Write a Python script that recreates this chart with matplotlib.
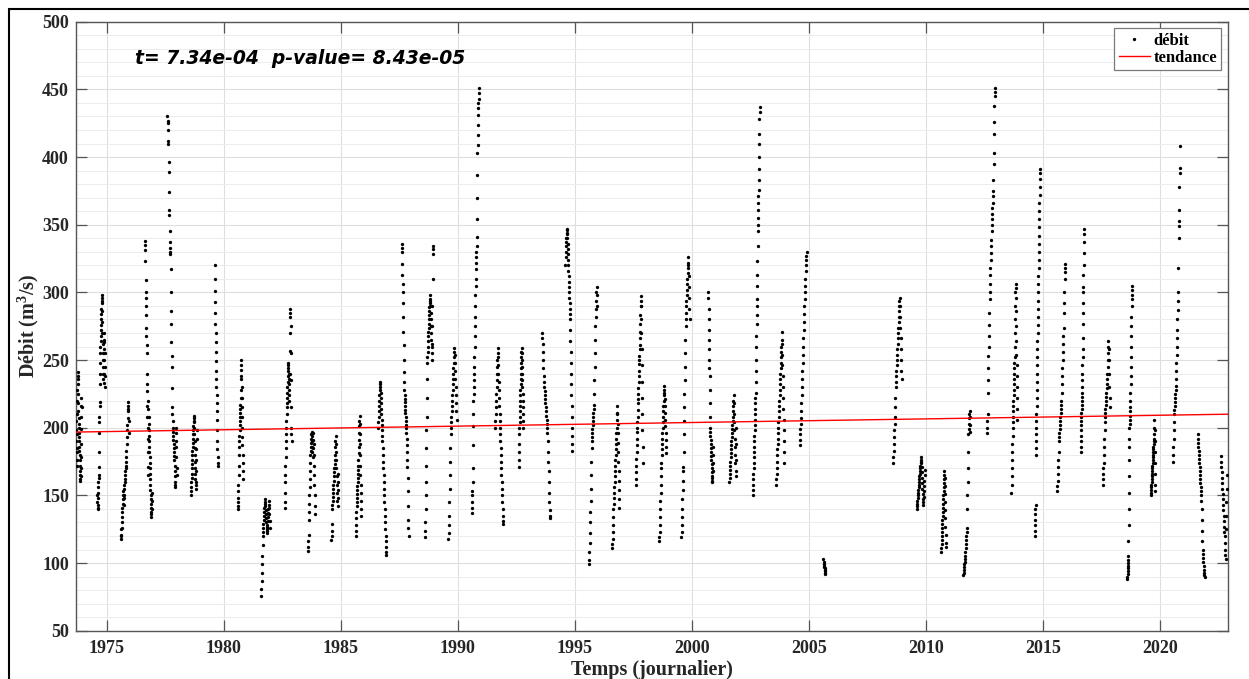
import numpy as np
import matplotlib
matplotlib.use('Agg')
import matplotlib.pyplot as plt
from matplotlib.patches import Rectangle
from matplotlib.ticker import MultipleLocator

plt.rcParams['font.family'] = ['Liberation Serif', 'DejaVu Serif']
plt.rcParams['mathtext.fontset'] = 'custom'
plt.rcParams['mathtext.bf'] = 'Liberation Serif:bold'
plt.rcParams['mathtext.rm'] = 'Liberation Serif:bold'

# debut / fin (annee decimale) de chaque periode de mesures
season_start = [1973.70, 1974.60, 1975.60, 1976.64, 1977.60, 1978.60, 1979.62, 1980.60,
                1981.60, 1982.60, 1983.60, 1984.60, 1985.64, 1986.60, 1987.60, 1988.60,
                1989.60, 1990.60, 1991.60, 1992.60, 1993.60, 1994.60, 1995.60, 1996.60,
                1997.60, 1998.60, 1999.55, 2000.70, 2001.60, 2002.60, 2003.60, 2004.60,
                2005.62, 2008.60, 2009.60, 2010.65, 2011.60, 2012.60, 2013.65, 2014.65,
                2015.60, 2016.60, 2017.55, 2018.60, 2019.60, 2020.55, 2021.60, 2022.60]
season_end = [1973.93, 1974.93, 1975.95, 1976.93, 1978.00, 1978.85, 1979.75, 1980.83,
              1981.97, 1982.90, 1983.90, 1984.90, 1985.88, 1986.95, 1987.90, 1988.95,
              1989.95, 1990.90, 1991.94, 1992.80, 1993.95, 1994.90, 1995.95, 1996.90,
              1997.90, 1998.90, 1999.90, 2000.90, 2001.90, 2002.90, 2003.95, 2004.90,
              2005.70, 2008.96, 2009.95, 2010.85, 2011.90, 2012.95, 2013.90, 2014.87,
              2015.95, 2016.75, 2017.85, 2018.80, 2019.80, 2020.85, 2021.90, 2022.85]

# debits journaliers (m3/s), une liste par periode
debit = [
    [205, 198, 190, 182, 176, 172, 185, 195, 210, 220, 228, 236, 241, 238, 232, 225, 218, 212, 207, 203,
     200, 196, 193, 190, 186, 183, 180, 176, 172, 168, 165, 162, 161, 164, 170, 178, 188, 199, 208, 216, 222, 215],
    [150, 145, 141, 140, 143, 148, 152, 156, 160, 163, 165, 171, 182, 196, 204, 208, 216, 219, 232, 240,
     248, 255, 260, 264, 268, 272, 276, 280, 284, 288, 292, 296, 298, 294, 286, 278, 270, 262, 255, 250,
     245, 240, 236, 233, 240, 250, 258, 265, 270, 263, 255, 245, 238, 230],
    [125, 120, 118, 121, 126, 130, 134, 138, 141, 144, 147, 150, 153, 148, 143, 150, 155, 158, 160, 162,
     165, 168, 170, 172, 175, 178, 183, 188, 193, 198, 202, 207, 212, 216, 219, 214, 205, 196],
    [338, 335, 331, 323, 309, 300, 296, 290, 283, 274, 268, 261, 255, 240, 232, 227, 216, 208, 200, 192,
     182, 171, 165, 220, 214, 208, 203, 198, 194, 190, 186, 182, 178, 174, 170, 166, 162, 158, 154, 150,
     147, 144, 141, 138, 136, 134, 140, 146, 152],
    [430, 427, 425, 420, 412, 410, 396, 389, 374, 361, 357, 345, 337, 333, 330, 328, 317, 300, 286, 277,
     263, 253, 245, 229, 215, 210, 205, 200, 197, 194, 191, 188, 185, 182, 179, 176, 172, 168, 164, 160,
     158, 156, 190, 200, 196, 186, 178, 170, 165],
    [150, 153, 156, 160, 163, 166, 170, 173, 176, 180, 183, 186, 189, 192, 195, 198, 201, 204, 207, 209,
     205, 200, 195, 190, 185, 180, 175, 170, 166, 162, 158, 155, 160, 168, 176, 184, 192, 198],
    [320, 310, 301, 293, 285, 277, 270, 263, 256, 249, 242, 236, 230, 224, 218, 212, 206, 198, 190, 184,
     178, 174, 172],
    [145, 140, 142, 148, 153, 158, 165, 172, 180, 186, 190, 194, 198, 202, 205, 208, 211, 214, 217, 222,
     228, 236, 243, 250, 246, 238, 230, 222, 215, 208, 200, 193, 187, 180, 174, 168, 162],
    [76, 81, 87, 93, 99, 105, 113, 120, 123, 126, 129, 132, 135, 138, 141, 144, 147, 145, 142, 139,
     136, 133, 130, 127, 124, 122, 125, 128, 131, 134, 137, 140, 143, 146, 141, 136, 131, 126],
    [141, 145, 152, 160, 165, 172, 178, 185, 190, 195, 200, 205, 210, 215, 218, 222, 226, 230, 234, 238,
     242, 246, 248, 244, 240, 236, 232, 228, 224, 220, 240, 257, 270, 282, 285, 288, 275, 255, 235, 215,
     200, 195, 190],
    [109, 112, 116, 121, 132, 138, 144, 150, 156, 162, 168, 174, 180, 183, 186, 189, 192, 195, 197, 194,
     190, 186, 182, 178, 185, 191, 196, 188, 180, 172, 165, 158, 150, 142, 136],
    [117, 120, 124, 129, 140, 143, 146, 149, 152, 155, 158, 161, 164, 167, 170, 173, 176, 180, 186, 190,
     194, 188, 182, 176, 170, 164, 158, 152, 146, 142, 148, 154, 160, 166],
    [120, 124, 128, 133, 138, 142, 145, 148, 151, 154, 157, 160, 163, 166, 169, 172, 176, 181, 186, 191,
     196, 201, 205, 209, 203, 195, 188, 180, 172, 165, 158, 152, 146, 140, 135],
    [200, 204, 208, 212, 216, 220, 224, 228, 232, 234, 230, 226, 222, 218, 214, 210, 206, 202, 198, 194,
     190, 185, 180, 175, 170, 165, 160, 155, 150, 145, 140, 135, 130, 125, 120, 116, 112, 108, 106],
    [336, 333, 330, 321, 313, 306, 300, 292, 282, 271, 261, 250, 241, 234, 228, 224, 221, 219, 216, 213,
     211, 208, 205, 202, 200, 196, 192, 187, 182, 176, 171, 163, 153, 142, 132, 126, 120],
    [119, 124, 130, 140, 150, 160, 172, 185, 198, 208, 222, 236, 248, 252, 256, 260, 264, 268, 271, 274,
     277, 280, 283, 286, 289, 292, 295, 298, 294, 290, 285, 280, 275, 270, 265, 260, 255, 250, 262, 275,
     290, 310, 328, 332, 334],
    [118, 122, 128, 135, 145, 155, 165, 175, 185, 195, 200, 204, 208, 212, 216, 220, 224, 228, 232, 236,
     240, 244, 248, 252, 256, 259, 254, 248, 242, 236, 230, 224, 218, 212, 206],
    [137, 141, 145, 150, 153, 160, 170, 187, 201, 210, 220, 225, 230, 235, 240, 245, 252, 260, 268, 275,
     282, 290, 298, 305, 310, 317, 322, 326, 330, 334, 341, 354, 370, 387, 403, 409, 416, 424, 431, 436,
     440, 443, 447, 451],
    [200, 205, 210, 215, 220, 225, 230, 235, 240, 245, 250, 255, 259, 252, 246, 240, 234, 228, 222, 216,
     210, 205, 200, 195, 190, 185, 180, 175, 170, 165, 160, 155, 150, 145, 140, 135, 131, 129],
    [171, 176, 182, 188, 195, 200, 204, 208, 212, 216, 220, 224, 228, 232, 236, 240, 244, 248, 252, 256,
     259, 255, 250, 245, 240, 235, 230, 225, 220, 215, 210, 205, 200],
    [270, 266, 262, 256, 250, 244, 238, 234, 230, 227, 224, 221, 218, 215, 212, 209, 206, 203, 200, 196,
     190, 182, 175, 168, 160, 152, 145, 139, 135, 133],
    [320, 326, 330, 334, 337, 340, 343, 346, 347, 344, 340, 336, 332, 328, 324, 320, 316, 312, 308, 304,
     300, 296, 292, 288, 284, 280, 272, 264, 256, 248, 240, 232, 224, 216, 208, 200, 194, 188, 183],
    [99, 102, 108, 115, 122, 130, 138, 146, 155, 165, 175, 185, 190, 193, 196, 199, 202, 205, 208, 211,
     214, 217, 225, 235, 245, 255, 265, 275, 282, 288, 294, 300, 304, 298, 290],
    [111, 114, 118, 123, 128, 134, 140, 144, 148, 152, 156, 160, 164, 168, 172, 176, 180, 184, 188, 192,
     196, 200, 206, 211, 216, 210, 203, 196, 189, 182, 175, 168, 161, 154, 147, 141],
    [158, 162, 167, 172, 177, 182, 187, 192, 197, 200, 204, 208, 213, 218, 221, 225, 229, 234, 238, 242,
     247, 250, 253, 258, 261, 266, 271, 277, 283, 290, 294, 297, 290, 280, 270, 258, 246, 234, 222, 210,
     198, 186, 174],
    [116, 119, 123, 128, 134, 140, 146, 152, 158, 164, 170, 174, 180, 184, 188, 192, 196, 200, 204, 208,
     212, 216, 220, 224, 228, 231, 226, 221, 216, 211, 206, 201, 196, 191, 186, 181],
    [119, 123, 128, 134, 140, 147, 154, 161, 168, 171, 182, 195, 205, 215, 225, 235, 245, 255, 265, 275,
     280, 285, 290, 294, 298, 302, 306, 310, 314, 318, 322, 326, 320, 312, 304, 296, 288, 280],
    [300, 296, 288, 280, 272, 265, 258, 250, 244, 238, 228, 218, 208, 200, 197, 194, 191, 188, 185, 182,
     179, 176, 173, 170, 167, 164, 161, 160, 163, 168, 174, 180, 186],
    [160, 163, 166, 169, 172, 175, 178, 181, 184, 187, 190, 193, 196, 199, 202, 205, 208, 212, 216, 220,
     224, 218, 210, 204, 198, 192, 186, 180, 174, 168, 164, 176, 188, 200],
    [150, 154, 158, 162, 166, 170, 174, 178, 182, 186, 190, 194, 198, 202, 206, 210, 214, 218, 222, 226,
     234, 242, 250, 260, 268, 277, 283, 290, 295, 305, 313, 323, 334, 345, 350, 355, 361, 366, 371, 376,
     383, 391, 400, 410, 417, 428, 433, 437],
    [158, 162, 166, 170, 175, 180, 184, 188, 192, 196, 200, 204, 208, 212, 216, 220, 224, 228, 232, 236,
     240, 244, 248, 252, 256, 260, 265, 271, 262, 254, 246, 238, 230, 222, 214, 206, 198, 190, 182, 174],
    [187, 191, 195, 199, 203, 207, 212, 218, 224, 230, 236, 242, 248, 254, 260, 266, 272, 278, 284, 290,
     295, 300, 305, 310, 316, 320, 324, 327, 330],
    [103, 101, 99, 98, 97, 96, 95, 94, 93, 92],
    [174, 178, 183, 188, 193, 198, 203, 208, 215, 222, 230, 234, 238, 242, 246, 250, 254, 258, 262, 266,
     270, 274, 278, 282, 286, 290, 294, 296, 290, 282, 274, 266, 258, 250, 242, 236],
    [140, 142, 144, 146, 148, 150, 152, 154, 156, 158, 160, 162, 164, 166, 168, 170, 172, 174, 176, 178,
     175, 171, 167, 163, 159, 155, 151, 147, 143, 145, 149, 153, 157, 161, 165, 169],
    [108, 111, 114, 117, 120, 123, 126, 129, 132, 135, 138, 141, 144, 147, 150, 153, 156, 159, 162, 165,
     168, 163, 157, 151, 145, 139, 133, 127, 121, 115, 112],
    [91, 93, 95, 97, 99, 101, 103, 105, 108, 111, 114, 117, 120, 123, 126, 140, 150, 160, 170, 182,
     195, 199, 203, 207, 210, 212, 208, 202, 197],
    [196, 200, 205, 210, 226, 235, 244, 253, 260, 268, 276, 285, 295, 300, 306, 313, 318, 324, 329, 334,
     339, 345, 350, 354, 358, 362, 366, 371, 375, 383, 395, 403, 417, 426, 438, 445, 448, 451],
    [152, 158, 164, 170, 176, 182, 188, 194, 200, 204, 208, 212, 216, 220, 224, 228, 232, 236, 240, 244,
     248, 252, 260, 270, 280, 290, 300, 306, 303, 296, 286, 275, 264, 254, 246, 238, 230, 222, 214, 206],
    [120, 124, 128, 132, 136, 140, 143, 180, 185, 190, 195, 200, 205, 210, 216, 222, 228, 234, 240, 246,
     252, 258, 264, 270, 276, 282, 288, 294, 300, 306, 312, 318, 324, 330, 336, 342, 348, 354, 360, 366,
     372, 378, 384, 388, 391],
    [153, 157, 161, 166, 171, 176, 182, 190, 193, 196, 199, 202, 205, 208, 211, 214, 217, 220, 226, 232,
     238, 244, 250, 256, 262, 268, 274, 285, 292, 300, 310, 315, 318, 321],
    [182, 186, 190, 194, 198, 202, 205, 208, 211, 214, 217, 220, 223, 226, 230, 235, 240, 246, 252, 258,
     266, 277, 285, 292, 300, 304, 313, 320, 329, 337, 343, 347],
    [158, 162, 166, 170, 174, 180, 186, 192, 198, 204, 208, 211, 214, 217, 220, 223, 226, 229, 232, 236,
     240, 245, 250, 255, 260, 264, 258, 250, 240, 230, 222, 215],
    [88, 90, 92, 94, 96, 98, 100, 102, 105, 116, 128, 140, 152, 164, 176, 186, 192, 200, 203, 206,
     209, 212, 215, 220, 226, 232, 238, 245, 252, 260, 268, 275, 282, 290, 295, 298, 302, 305],
    [150, 152, 154, 156, 158, 160, 162, 164, 166, 168, 170, 172, 174, 176, 178, 180, 182, 184, 186, 188,
     190, 192, 195, 200, 206, 198, 190, 182, 174, 166, 158, 153],
    [175, 180, 186, 192, 198, 204, 210, 213, 216, 219, 222, 225, 228, 231, 236, 242, 248, 254, 260, 266,
     272, 280, 287, 294, 300, 318, 340, 349, 353, 361, 378, 388, 392, 408],
    [195, 192, 189, 186, 183, 180, 177, 174, 171, 168, 165, 162, 159, 156, 153, 150, 146, 140, 132, 124,
     116, 110, 107, 104, 101, 98, 95, 93, 91, 90],
    [179, 175, 171, 167, 163, 159, 155, 151, 147, 143, 139, 135, 131, 127, 123, 120, 115, 110, 106, 103,
     125, 135, 145, 155, 165],
]

# test de tendance (pente de Sen, par jour) et p-value
slope_day = 7.34e-4
p_value = 8.43e-05
trend_origin = 196.8  # valeur de la tendance au debut de l'axe

x_min, x_max = 1973.69, 2022.9


def main():
    fig = plt.figure(figsize=(12.49, 6.79), dpi=100)
    ax = fig.add_axes([0.0608, 0.0711, 0.9224, 0.8969])

    t_all, q_all = [], []
    for t0, t1, q in zip(season_start, season_end, debit):
        t_all.extend(np.linspace(t0, t1, len(q)))
        q_all.extend(q)

    ax.plot(t_all, q_all, 'o', color='black', ms=2.4, mew=0, ls='none', label='débit', zorder=3)

    xs = np.array([x_min, x_max])
    ax.plot(xs, trend_origin + slope_day * 365.25 * (xs - x_min), color='red', lw=1.0,
            label='tendance', zorder=4)

    ax.set_xlim(x_min, x_max)
    ax.set_ylim(50, 500)
    ax.yaxis.set_major_locator(MultipleLocator(50))
    ax.yaxis.set_minor_locator(MultipleLocator(10))
    ax.set_xticks(np.arange(1975, 2021, 5))

    ax.grid(which='major', color='#dedede', lw=0.8)
    ax.grid(which='minor', axis='y', color='#ececec', lw=0.7)
    ax.set_axisbelow(True)

    for s in ax.spines.values():
        s.set_color('#555555')
        s.set_linewidth(1.0)
    ax.tick_params(which='major', direction='in', length=8, width=0.9, color='#555555',
                   top=True, right=True, labelsize=13)
    ax.tick_params(which='minor', length=0, top=True, right=True)
    ax.tick_params(axis='x', pad=7)
    ax.tick_params(axis='y', pad=5)
    for lbl in ax.get_xticklabels() + ax.get_yticklabels():
        lbl.set_fontweight('bold')
        lbl.set_color('#262626')

    ax.set_xlabel('Temps (journalier)', fontsize=14.5, fontweight='bold', color='#262626', labelpad=2)
    ax.set_ylabel(r'Débit (m$^{\mathbf{3}}$/s)', fontsize=14.5, fontweight='bold', color='#262626',
                  labelpad=1)

    ax.text(0.0512, 0.940, 't= %.2e  p-value= %.2e' % (slope_day, p_value), transform=ax.transAxes,
            fontsize=13.5, fontweight='bold', fontstyle='italic', family=['DejaVu Sans'],
            va='center', ha='left')

    leg = ax.legend(loc='upper right', prop={'weight': 'bold', 'size': 12},
                    fancybox=False, framealpha=1, edgecolor='#7a7a7a', borderaxespad=0.4,
                    handlelength=1.9, handletextpad=0.2, borderpad=0.25, labelspacing=0.1)
    leg.get_frame().set_linewidth(0.9)

    # cadre exterieur de la figure
    fig.add_artist(Rectangle((8.5 / 1249, -0.2), 2, 1.2 - 9 / 679, transform=fig.transFigure,
                             fill=False, ec='black', lw=1.5))

    fig.savefig('out.png', dpi=100)


if __name__ == "__main__":
    main()
